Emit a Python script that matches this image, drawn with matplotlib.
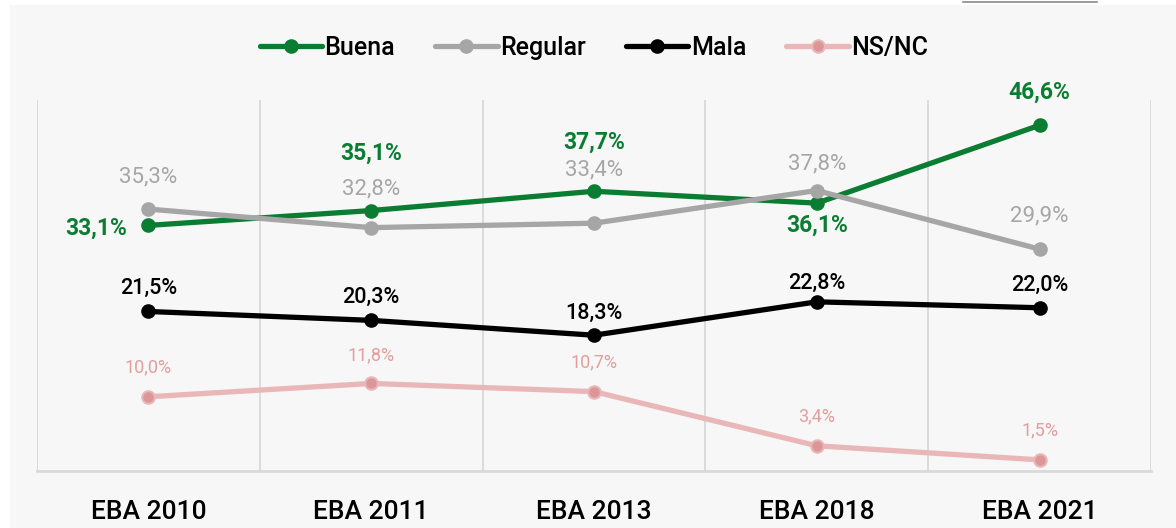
import matplotlib
matplotlib.use("Agg")
import matplotlib.pyplot as plt
from matplotlib.patches import Rectangle
from matplotlib.lines import Line2D

plt.rcParams['font.family'] = ['Roboto', 'DejaVu Sans']

categories = ["EBA 2010", "EBA 2011", "EBA 2013", "EBA 2018", "EBA 2021"]
buena = [33.1, 35.1, 37.7, 36.1, 46.6]
regular = [35.3, 32.8, 33.4, 37.8, 29.9]
mala = [21.5, 20.3, 18.3, 22.8, 22.0]
nsnc = [10.0, 11.8, 10.7, 3.4, 1.5]

# label offsets (points) per series/point
buena_off = [(-15, -2), (0, 41), (0, 35), (0, -16), (0, 24)]
regular_off = [(0, 23), (0, 28), (0, 38.5), (0, 19), (0, 24)]
mala_off = [(0, 16.5), (0, 16.5), (0, 16), (0, 13), (0, 16)]
nsnc_off = [(0, 21), (0, 20.5), (0, 21), (0, 21), (0, 21)]

fig = plt.figure(figsize=(11.76, 5.28), dpi=100)
fig.patch.set_facecolor("white")
fig.patches.append(Rectangle((10/1176, 0), 1 - 10/1176, 1 - 5/528,
                             transform=fig.transFigure, facecolor="#f7f7f7",
                             edgecolor="none", zorder=-5))
fig.lines.append(Line2D([963/1176, 1097/1176], [1 - 1.5/528, 1 - 1.5/528],
                        transform=fig.transFigure, color="#8a8a8a", lw=1.2))

ax = fig.add_axes([37/1176, 1 - 471/528, (1151 - 37)/1176, (471 - 100)/528])
ax.set_facecolor("none")
ax.set_zorder(1)
x = list(range(len(categories)))

series = [
    ("Buena", buena, "#0b7d32", "#0b7d32", "#0b7d32", buena_off, 16.5, "semibold"),
    ("Regular", regular, "#a6a6a6", "#a6a6a6", "#a6a6a6", regular_off, 16, "normal"),
    ("Mala", mala, "#000000", "#000000", "#000000", mala_off, 15.5, "medium"),
    ("NS/NC", nsnc, "#e9b7b7", "#db9697", "#e9b7b7", nsnc_off, 13, "normal"),
]
label_colors = {"Buena": "#0b7d32", "Regular": "#a6a6a6", "Mala": "#000000", "NS/NC": "#e39e9e"}

for name, vals, lc, mfc, mec, offs, fs, fw in series:
    ax.plot(x, vals, color=lc, lw=3.8, marker="o", markersize=9,
            markerfacecolor=mfc, markeredgecolor=mec, markeredgewidth=1.5,
            label=name, solid_capstyle="round", zorder=3)
    for xi, v, (dx, dy) in zip(x, vals, offs):
        txt = f"{v:.1f}%".replace(".", ",")
        ax.annotate(txt, (xi, v), xytext=(dx, dy), textcoords="offset points",
                    ha="center" if dx == 0 else "right", va="center",
                    fontsize=fs, fontweight=fw, color=label_colors[name], zorder=4)

ax.set_xlim(-0.5, len(categories) - 0.5)
ax.set_ylim(0, 50)
ax.set_xticks(x)
ax.set_xticklabels(categories, fontsize=19, fontweight="medium")
ax.tick_params(axis="x", length=0, pad=21)
ax.set_yticks([])
for b in [i - 0.5 for i in range(len(categories) + 1)]:
    ax.axvline(b, color="#d9d9d9", lw=1.3, zorder=1)
for s in ["top", "left", "right"]:
    ax.spines[s].set_visible(False)
ax.spines["bottom"].set_color("#d9d9d9")
ax.spines["bottom"].set_linewidth(2)

leg = fig.legend(loc="center", bbox_to_anchor=(0.505, 1 - 48/528), ncol=4,
                 frameon=False, fontsize=18, handlelength=2.5, handletextpad=0.1,
                 columnspacing=1.6)
for t in leg.get_texts():
    t.set_fontweight("medium")

fig.savefig("out.png", dpi=100, facecolor=fig.get_facecolor())
